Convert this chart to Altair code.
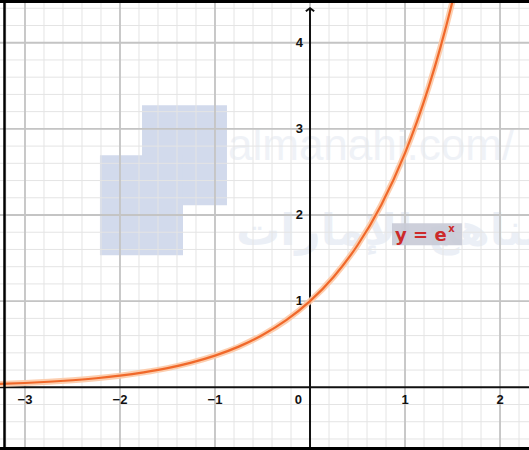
import altair as alt
import pandas as pd

# Plot window in graph units
x_domain = [-3.263, 2.305]
y_domain = [-0.728, 4.496]

# Grid lines: minor every 0.2, major every 1
minor_x = [round(-3.2 + 0.2 * i, 1) for i in range(28)]
minor_y = [round(-0.6 + 0.2 * i, 1) for i in range(26)]
major_x = [-3, -2, -1, 0, 1, 2]
major_y = [1, 2, 3, 4]

# Tick labels
x_tick_vals = [-3, -2, -1, 1, 2]
x_tick_text = ["\u22123", "\u22122", "\u22121", "1", "2"]
y_tick_vals = [1, 2, 3, 4]
y_tick_text = ["1", "2", "3", "4"]

# Curve y = e^x sampled along x
curve_x = [-3.3, -3.0, -2.75, -2.5, -2.25, -2.0, -1.75, -1.5, -1.25, -1.0,
           -0.75, -0.5, -0.25, 0.0, 0.25, 0.5, 0.75, 1.0, 1.125, 1.25,
           1.375, 1.5, 1.6]
curve_y = [0.037, 0.050, 0.064, 0.082, 0.105, 0.135, 0.174, 0.223, 0.287, 0.368,
           0.472, 0.607, 0.779, 1.0, 1.284, 1.649, 2.117, 2.718, 3.080, 3.490,
           3.955, 4.482, 4.953]

# Watermark blocks (graph units)
wm_x1 = [-1.768, -2.211]
wm_x2 = [-0.874, -1.337]
wm_y1 = [2.113, 1.532]
wm_y2 = [3.273, 2.693]

W, H = 529, 450
xs = alt.Scale(domain=x_domain, nice=False, zero=False)
ys = alt.Scale(domain=y_domain, nice=False, zero=False)

def X(f):
    return alt.X(f, type="quantitative", scale=xs, axis=None)

def Y(f):
    return alt.Y(f, type="quantitative", scale=ys, axis=None)

wm_df = pd.DataFrame({"x1": wm_x1, "x2": wm_x2, "y1": wm_y1, "y2": wm_y2})
watermark = alt.Chart(wm_df).mark_rect(color="#d2daec").encode(
    x=X("x1"), x2="x2", y=Y("y1"), y2="y2"
)

wm_text1 = alt.Chart(pd.DataFrame({"t": ["almanahj.com/"]})).mark_text(
    align="left", baseline="alphabetic", fontSize=44, font="Liberation Sans",
    color="#eff2f7"
).encode(x=alt.value(228), y=alt.value(160), text="t:N")

wm_text2 = alt.Chart(pd.DataFrame({"t": ["مناهج الإمارات"]})).mark_text(
    align="left", baseline="alphabetic", fontSize=44, font="DejaVu Sans",
    fontWeight="bold", color="#ebeff6"
).encode(x=alt.value(236), y=alt.value(245), text="t:N")

minor_v = alt.Chart(pd.DataFrame({"v": minor_x})).mark_rule(
    color="#e4e4e4", strokeWidth=1).encode(x=X("v"))
minor_h = alt.Chart(pd.DataFrame({"v": minor_y})).mark_rule(
    color="#e4e4e4", strokeWidth=1).encode(y=Y("v"))
major_v = alt.Chart(pd.DataFrame({"v": major_x})).mark_rule(
    color="#c4c4c4", strokeWidth=1.8).encode(x=X("v"))
major_h = alt.Chart(pd.DataFrame({"v": major_y})).mark_rule(
    color="#c4c4c4", strokeWidth=1.8).encode(y=Y("v"))

# Coordinate axes
x_axis = alt.Chart(pd.DataFrame({"v": [0]})).mark_rule(
    color="#111111", strokeWidth=2).encode(y=Y("v"))
y_axis = alt.Chart(pd.DataFrame({"v": [0], "y0": [y_domain[0]], "y1": [4.40]})).mark_rule(
    color="#111111", strokeWidth=2).encode(x=X("v"), y=Y("y0"), y2="y1")
y_arrow = alt.Chart(pd.DataFrame({"x": [0], "y": [4.40]})).mark_point(
    shape="M-1,0.7L0,0L1,0.7", filled=False, stroke="#111111",
    strokeWidth=2, size=70, opacity=1
).encode(x=X("x"), y=Y("y"))

font = "Liberation Sans"
x_labels = alt.Chart(pd.DataFrame({"x": x_tick_vals, "y": [0] * 5, "t": x_tick_text})).mark_text(
    align="center", baseline="middle", dy=13, fontSize=13, fontWeight="bold",
    font=font, color="#111111"
).encode(x=X("x"), y=Y("y"), text="t:N")
y_labels = alt.Chart(pd.DataFrame({"x": [0] * 4, "y": y_tick_vals, "t": y_tick_text})).mark_text(
    align="right", baseline="middle", dx=-7, fontSize=13, fontWeight="bold",
    font=font, color="#111111"
).encode(x=X("x"), y=Y("y"), text="t:N")
origin_label = alt.Chart(pd.DataFrame({"x": [0], "y": [0], "t": ["0"]})).mark_text(
    align="right", baseline="middle", dx=-8, dy=13, fontSize=13, fontWeight="bold",
    font=font, color="#111111"
).encode(x=X("x"), y=Y("y"), text="t:N")

curve_df = pd.DataFrame({"x": curve_x, "y": curve_y})
halo = alt.Chart(curve_df).mark_line(
    color="#fcc9a6", strokeWidth=6, interpolate="monotone", clip=True, opacity=0.9
).encode(x=X("x"), y=Y("y"), order="x:Q")
curve = alt.Chart(curve_df).mark_line(
    color="#f0682a", strokeWidth=2.2, interpolate="monotone", clip=True
).encode(x=X("x"), y=Y("y"), order="x:Q")

# Function label
box = alt.Chart(pd.DataFrame({"x1": [0.863], "x2": [1.60], "y1": [1.648], "y2": [1.904]})).mark_rect(
    color="#c8cad6", opacity=0.9
).encode(x=X("x1"), x2="x2", y=Y("y1"), y2="y2")
label = alt.Chart(pd.DataFrame({"x": [0.895], "y": [1.695], "t": ["y = e"]})).mark_text(
    align="left", baseline="alphabetic", fontSize=18, fontWeight="bold",
    font="DejaVu Sans", color="#cc2a2a"
).encode(x=X("x"), y=Y("y"), text="t:N")
label_sup = alt.Chart(pd.DataFrame({"x": [1.455], "y": [1.80], "t": ["x"]})).mark_text(
    align="left", baseline="alphabetic", fontSize=10, fontWeight="bold",
    font="DejaVu Sans", color="#cc2a2a"
).encode(x=X("x"), y=Y("y"), text="t:N")

# Outer frame (top, left, bottom)
frame_top = alt.Chart(pd.DataFrame({"a": [0]})).mark_rule(color="#000000", strokeWidth=3).encode(
    y=alt.value(1.5), x=alt.value(0), x2=alt.value(W))
frame_left = alt.Chart(pd.DataFrame({"a": [0]})).mark_rule(color="#000000", strokeWidth=2.5).encode(
    x=alt.value(4.5), y=alt.value(0), y2=alt.value(H))
frame_bottom = alt.Chart(pd.DataFrame({"a": [0]})).mark_rule(color="#000000", strokeWidth=3).encode(
    y=alt.value(448.5), x=alt.value(0), x2=alt.value(W))

chart = alt.layer(
    watermark, wm_text1, wm_text2,
    minor_v, minor_h, major_v, major_h,
    x_axis, y_axis, y_arrow,
    x_labels, y_labels, origin_label,
    halo, curve,
    box, label, label_sup,
    frame_top, frame_left, frame_bottom,
).properties(
    width=W, height=H, padding=0, autosize=alt.AutoSizeParams(type="none"),
    background="white"
).configure_view(stroke=None)

chart.save("out.html", embed_options={"renderer": "svg", "actions": False})
